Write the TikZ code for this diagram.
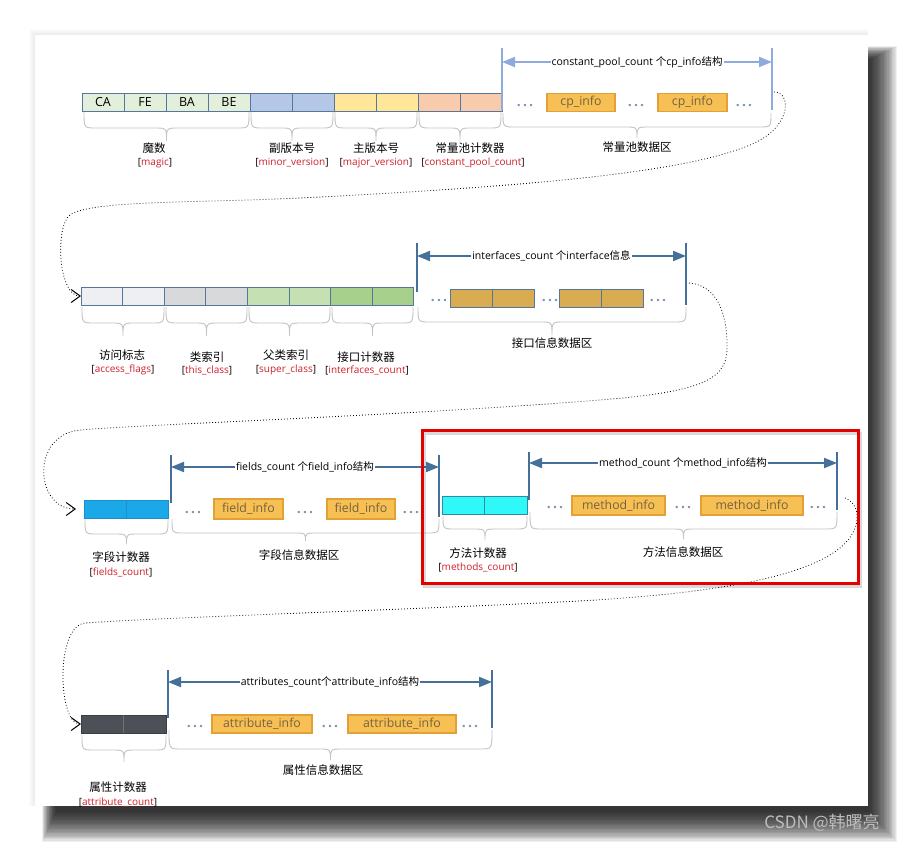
\documentclass[tikz,border=0pt]{standalone}
\usepackage{fontspec}
\setmainfont{Open Sans}
\newfontfamily\cjk{Noto Sans CJK SC}
\usetikzlibrary{arrows.meta}
\definecolor{cellb}{HTML}{56779A}
\definecolor{cmagic}{HTML}{E2EFDA}
\definecolor{cminor}{HTML}{B4C7E7}
\definecolor{cmajor}{HTML}{FFE699}
\definecolor{ccp}{HTML}{F8CBAD}
\definecolor{cacc}{HTML}{EDEFF3}
\definecolor{cthis}{HTML}{D8D9DB}
\definecolor{csuper}{HTML}{C5E0B3}
\definecolor{cintf}{HTML}{A8D08D}
\definecolor{cifbox}{HTML}{D9AC52}
\definecolor{cfield}{HTML}{1BA8E8}
\definecolor{cfieldb}{HTML}{1A8FCC}
\definecolor{cmeth}{HTML}{30F8F8}
\definecolor{cmethb}{HTML}{2E8BA0}
\definecolor{cattr}{HTML}{4D5157}
\definecolor{cattrb}{HTML}{3A3F45}
\definecolor{infof}{HTML}{F7C055}
\definecolor{infob}{HTML}{E3A035}
\definecolor{infot}{HTML}{75623E}
\definecolor{dotc}{HTML}{7F93AE}
\definecolor{arrA}{HTML}{8FAADC}
\definecolor{arrB}{HTML}{44709A}
\definecolor{brcc}{HTML}{C4C4C4}
\definecolor{redt}{HTML}{D0202A}
\definecolor{wm}{HTML}{BDBDBD}
\newcommand\fs[1]{\fontsize{#1}{#1}\selectfont}
\newcommand\ddd{.\kern2.2pt.\kern2.2pt.}
\newcommand\mybrace[5]{%
  \draw[brc] (#1,#3) .. controls (#1,#3+#4) .. (#1+12,#3+#4)
    -- ({(#1+#2)/2-12},#3+#4) .. controls ({(#1+#2)/2},#3+#4) .. ({(#1+#2)/2},#3+#5)
    .. controls ({(#1+#2)/2},#3+#4) .. ({(#1+#2)/2+12},#3+#4)
    -- (#2-12,#3+#4) .. controls (#2,#3+#4) .. (#2,#3);}
\begin{document}
\begin{tikzpicture}[x=1pt,y=-1pt,
  cell/.style={draw=cellb, line width=0.8pt, minimum width=42pt, minimum height=18pt,
    inner sep=0pt, outer sep=0pt, anchor=west, font=\fs{12.5}},
  bx/.style={draw=infob, fill=infof, line width=1.3pt, text=infot, inner sep=0pt,
    minimum height=18pt, font=\fs{12.3}},
  dots/.style={text=dotc, font=\bfseries\fs{14}, inner sep=0pt},
  zh/.style={font=\cjk\fs{11.5}, inner sep=0pt},
  en/.style={font=\fs{10}, inner sep=0pt},
  lab/.style={fill=white, font=\fs{10.5}, inner xsep=1pt, inner ysep=1pt},
  vA/.style={line width=1.6pt, draw=arrA},
  vB/.style={line width=1.6pt, draw=arrB},
  dimA/.style={line width=2pt, draw=arrA, fill=arrA, {Triangle[length=13pt,width=10pt]}-{Triangle[length=13pt,width=10pt]}},
  dimB/.style={line width=2pt, draw=arrB, fill=arrB, {Triangle[length=13pt,width=10pt]}-{Triangle[length=13pt,width=10pt]}},
  conn/.style={line width=0.8pt, dash pattern=on 0.8pt off 2.2pt,
    -{Straight Barb[length=9pt,width=13pt,line width=1pt]}},
  brc/.style={draw=brcc, line width=0.9pt}]
\useasboundingbox (0,0) rectangle (904,842);
\fill[white] (0,0) rectangle (904,842);
% page shadow
\foreach \i in {1,...,6} \fill[black,opacity=0.012] (35-\i,35-\i) rectangle (868,806);
\foreach \i in {0,...,23} \fill[black,opacity=0.06] (42+0.6*\i,46+0.6*\i) rectangle (897-1.2*\i,842-1.3*\i);
\fill[white] (35,35) rectangle (868,806);

% ---------------- row 1
\node[cell, fill=cmagic] (ca) at (82,102) {CA};
\node[cell, fill=cmagic] (fe) at (124,102) {FE};
\node[cell, fill=cmagic] (ba) at (166,102) {BA};
\node[cell, fill=cmagic] (be) at (208,102) {BE};
\node[cell, fill=cminor] (mi1) at (250,102) {};
\node[cell, fill=cminor] (mi2) at (292,102) {};
\node[cell, fill=cmajor] (ma1) at (334,102) {};
\node[cell, fill=cmajor] (ma2) at (376,102) {};
\node[cell, fill=ccp] (cc1) at (418,102) {};
\node[cell, fill=ccp] (cc2) at (460,102) {};

\coordinate (aL1t) at (502,48); \coordinate (aL1b) at (502,110);
\coordinate (aR1t) at (772,48); \coordinate (aR1b) at (772,110);
\coordinate (aL1m) at (502,62); \coordinate (aR1m) at (772,62);
\draw[vA] (aL1t) -- (aL1b);
\draw[vA] (aR1t) -- (aR1b);
\draw[dimA] (aL1m) -- node[lab] (t1) {constant\_pool\_count {\cjk 个}cp\_info{\cjk 结构}} (aR1m);
\node[dots] (d11) at (525,106) {\ddd};
\node[bx, minimum width=68pt] (cp1) at (581,102.5) {cp\_info};
\node[dots] (d12) at (636,106) {\ddd};
\node[bx, minimum width=69pt] (cp2) at (692.5,102.5) {cp\_info};
\node[dots] (d13) at (744,106) {\ddd};

\mybrace{84}{249}{112}{16}{29}
\mybrace{251}{333}{112}{16}{29}
\mybrace{335}{417}{112}{16}{29}
\mybrace{419}{501}{112}{16}{29}
\mybrace{503}{771}{113}{14}{25}

\node[zh] (l1a) at (154,148) {魔数};
\node[en] (e1a) at (155,163) {[\textcolor{redt}{magic}]};
\node[zh] (l1b) at (292,148) {副版本号};
\node[en] (e1b) at (292,163) {[\textcolor{redt}{minor\_version}]};
\node[zh] (l1c) at (376,148) {主版本号};
\node[en] (e1c) at (376,163) {[\textcolor{redt}{major\_version}]};
\node[zh] (l1d) at (470,148) {常量池计数器};
\node[en] (e1d) at (473,163) {[\textcolor{redt}{constant\_pool\_count}]};
\node[zh] (l1e) at (637,147) {常量池数据区};

% ---------------- row 2
\node[cell, fill=cacc, minimum width=41.6pt] (ac1) at (81,296) {};
\node[cell, fill=cacc, minimum width=41.6pt] (ac2) at (122.6,296) {};
\node[cell, fill=cthis, minimum width=41.6pt] (th1) at (164.2,296) {};
\node[cell, fill=cthis, minimum width=41.6pt] (th2) at (205.8,296) {};
\node[cell, fill=csuper, minimum width=41.6pt] (su1) at (247.4,296) {};
\node[cell, fill=csuper, minimum width=41.6pt] (su2) at (289,296) {};
\node[cell, fill=cintf, minimum width=41.6pt] (ic1) at (330.6,296) {};
\node[cell, fill=cintf, minimum width=41.6pt] (ic2) at (372.2,296) {};

\coordinate (aL2t) at (417,243); \coordinate (aL2b) at (417,292);
\coordinate (aR2t) at (686,243); \coordinate (aR2b) at (686,305);
\coordinate (aL2m) at (417,256); \coordinate (aR2m) at (686,256);
\draw[vB] (aL2t) -- (aL2b);
\draw[vB] (aR2t) -- (aR2b);
\draw[dimB] (aL2m) -- node[lab] (t2) {interfaces\_count {\cjk 个}interface{\cjk 信息}} (aR2m);
\node[dots] (d21) at (439,301) {\ddd};
\node[cell, fill=cifbox] (if1) at (450,298) {};
\node[cell, fill=cifbox] (if2) at (492,298) {};
\node[dots] (d22) at (550,301) {\ddd};
\node[cell, fill=cifbox] (if3) at (559,298) {};
\node[cell, fill=cifbox] (if4) at (601,298) {};
\node[dots] (d23) at (658,301) {\ddd};

\mybrace{82}{164}{307}{16}{29}
\mybrace{166}{247}{307}{16}{29}
\mybrace{249}{330}{307}{16}{29}
\mybrace{332}{413}{307}{16}{29}
\mybrace{418}{686}{307}{15}{28}

\node[zh] (l2a) at (122,355) {访问标志};
\node[en] (e2a) at (123,370) {[\textcolor{redt}{access\_flags}]};
\node[zh] (l2b) at (207,357) {类索引};
\node[en] (e2b) at (207,370) {[\textcolor{redt}{this\_class}]};
\node[zh] (l2c) at (286,355) {父类索引};
\node[en] (e2c) at (286,370) {[\textcolor{redt}{super\_class}]};
\node[zh] (l2d) at (366,357) {接口计数器};
\node[en] (e2d) at (367,370) {[\textcolor{redt}{interfaces\_count}]};
\node[zh] (l2e) at (552,343) {接口信息数据区};

% ---------------- row 3
\node[cell, draw=cfieldb, fill=cfield] (fc1) at (84,509) {};
\node[cell, draw=cfieldb, fill=cfield] (fc2) at (126,509) {};

\coordinate (aL3t) at (171,455); \coordinate (aL3b) at (171,503);
\coordinate (aR3t) at (439,455); \coordinate (aR3b) at (439,517);
\coordinate (aL3m) at (171,467); \coordinate (aR3m) at (439,467);
\draw[vB] (aL3t) -- (aL3b);
\draw[vB] (aR3t) -- (aR3b);
\draw[dimB] (aL3m) -- node[lab] (t3) {fields\_count {\cjk 个}field\_info{\cjk 结构}} (aR3m);
\node[dots] (d31) at (193,513) {\ddd};
\node[bx, minimum width=69pt, minimum height=20pt] (fi1) at (248.5,509) {field\_info};
\node[dots] (d32) at (305,513) {\ddd};
\node[bx, minimum width=68pt, minimum height=20pt] (fi2) at (361,509) {field\_info};
\node[dots] (d33) at (411,513) {\ddd};

\mybrace{85}{168}{519}{15}{25}
\mybrace{172}{439}{519}{14}{22}

\node[zh] (l3a) at (121,557) {字段计数器};
\node[en] (e3a) at (121,572) {[\textcolor{redt}{fields\_count}]};
\node[zh] (l3b) at (299,555) {字段信息数据区};

\node[cell, draw=cmethb, fill=cmeth, minimum width=42.5pt] (mc1) at (442,505) {};
\node[cell, draw=cmethb, fill=cmeth, minimum width=42.5pt] (mc2) at (484.5,505) {};

\coordinate (aL4t) at (529,452); \coordinate (aL4b) at (529,500);
\coordinate (aR4t) at (837,452); \coordinate (aR4b) at (837,510);
\coordinate (aL4m) at (529,463); \coordinate (aR4m) at (837,463);
\draw[vB] (aL4t) -- (aL4b);
\draw[vB] (aR4t) -- (aR4b);
\draw[dimB] (aL4m) -- node[lab] (t4) {method\_count {\cjk 个}method\_info{\cjk 结构}} (aR4m);
\node[dots] (d41) at (555,508) {\ddd};
\node[bx, minimum width=93pt, minimum height=19pt] (mi1b) at (618.5,505.5) {method\_info};
\node[dots] (d42) at (683,508) {\ddd};
\node[bx, minimum width=102pt, minimum height=19pt] (mi2b) at (752,505.5) {method\_info};
\node[dots] (d43) at (818,508) {\ddd};

\mybrace{443}{527}{516}{13}{24}
\mybrace{530}{837}{512}{17}{27}

\node[zh] (l4a) at (478,553) {方法计数器};
\node[en] (e4a) at (478,567) {[\textcolor{redt}{methods\_count}]};
\node[zh] (l4b) at (683,552) {方法信息数据区};

% ---------------- row 4
\node[cell, draw=cattrb, fill=cattr, minimum width=42.5pt] (at1) at (81,724) {};
\node[cell, draw=cattrb, fill=cattr, minimum width=42.5pt] (at2) at (123.5,724) {};
\draw[gray!70!cattr, line width=0.8pt] (at1.north east) -- (at1.south east);

\coordinate (aL5t) at (168,670); \coordinate (aL5b) at (168,718);
\coordinate (aR5t) at (492,670); \coordinate (aR5b) at (492,728);
\coordinate (aL5m) at (168,682); \coordinate (aR5m) at (492,682);
\draw[vB] (aL5t) -- (aL5b);
\draw[vB] (aR5t) -- (aR5b);
\draw[dimB] (aL5m) -- node[lab] (t5) {attributes\_count{\cjk 个}attribute\_info{\cjk 结构}} (aR5m);
\node[dots] (d51) at (195,727) {\ddd};
\node[bx, minimum width=100pt] (ai1) at (262,724) {attribute\_info};
\node[dots] (d52) at (330,727) {\ddd};
\node[bx, minimum width=108pt] (ai2) at (402,724) {attribute\_info};
\node[dots] (d53) at (470,727) {\ddd};

\mybrace{82}{166}{735}{15}{27}
\mybrace{169}{492}{730}{19}{30}

\node[zh] (l5a) at (118,787) {属性计数器};
\node[en] (e5a) at (118,802) {[\textcolor{redt}{attribute\_count}]};
\node[zh] (l5b) at (323,770) {属性信息数据区};

% ---------------- dotted connectors
\coordinate (s1) at (774,92);
\draw[conn] (s1) .. controls (792,92) and (792,128) .. (750,145)
  .. controls (690,170) and (560,185) .. (300,198)
  .. controls (200,203) and (90,200) .. (70,215)
  .. controls (55,226) and (58,296) .. (ac1.west);
\coordinate (s2) at (689,283);
\draw[conn, shorten >=8pt] (s2) .. controls (715,285) and (728,310) .. (727,350)
  .. controls (726,380) and (700,392) .. (600,400)
  .. controls (400,416) and (150,424) .. (80,430)
  .. controls (30,435) and (35,509) .. (fc1.west);
\coordinate (s3) at (845,498);
\draw[conn] (s3) .. controls (862,505) and (862,530) .. (840,548)
  .. controls (800,580) and (700,595) .. (560,602)
  .. controls (400,610) and (150,618) .. (85,623)
  .. controls (55,626) and (58,724) .. (at1.west);

% red highlight
\draw[black, opacity=0.15, line width=3pt] (424,433) rectangle (860,586);
\draw[red!90!black, line width=3pt] (422,430) rectangle (858,583);

% watermark
\node[text=wm, font=\cjk\fs{17}, inner sep=0pt] (wmk) at (822,823) {CSDN @韩曙亮};
\end{tikzpicture}
\end{document}
